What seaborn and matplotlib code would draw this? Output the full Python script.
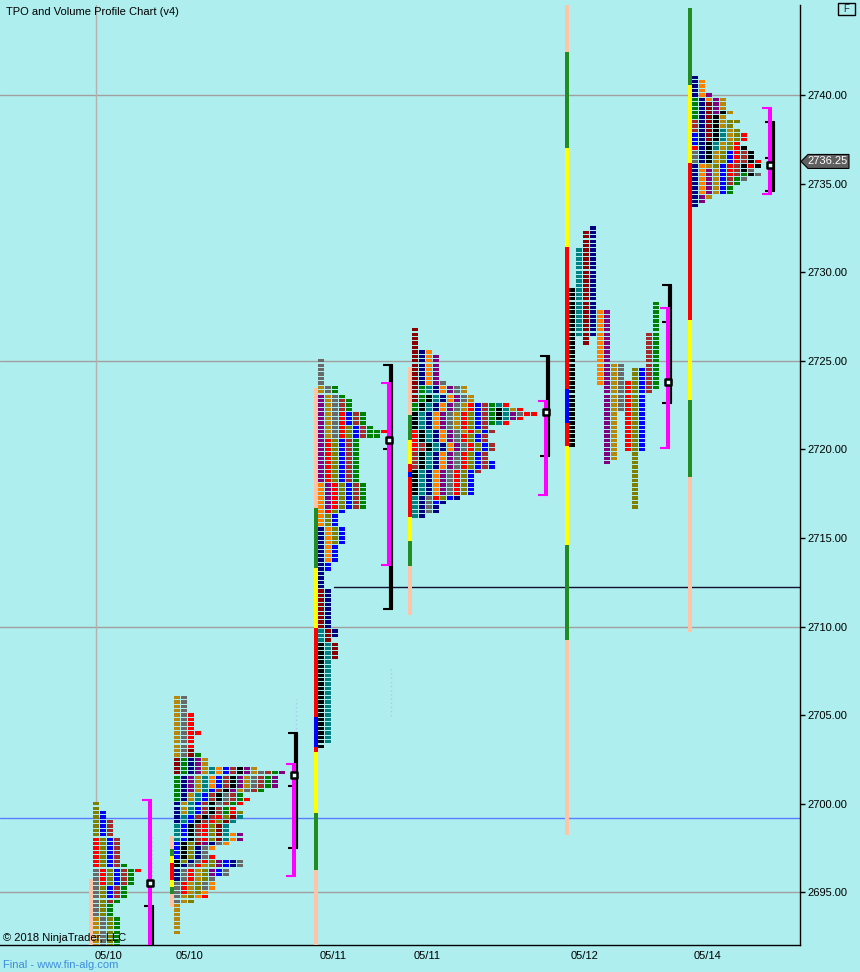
import matplotlib
matplotlib.use("Agg")
import matplotlib.pyplot as plt
import matplotlib.transforms as mtransforms
from matplotlib.patches import Polygon, Rectangle
import seaborn as sns
import pandas as pd

BG = "#AFEEEE"
TPO_COLORS = {
    "gold": "#B8860B", "grey": "#696969", "red": "#FF0000", "brown": "#A52A2A",
    "green": "#008000", "blue": "#0000FF", "navy": "#000080", "purple": "#800080",
    "teal": "#008080", "black": "#000000", "orange": "#FF8000", "olive": "#808000",
    "darkred": "#8B0000",
}
RANGE_COLORS = {"salmon": "#FFC4A8", "green": "#228B22", "yellow": "#FFFF00",
                "red": "#FF0000", "blue": "#0000FF"}

# ---- sessions -------------------------------------------------------------
session_labels = ["05/10", "05/10", "05/11", "05/11", "05/12", "05/14"]
session_split = [False, False, False, False, True, False]

# tpo periods: (colour, low, high)
s1_periods = [
    ("gold", 2691.5, 2693.5), ("grey", 2691.5, 2696.25), ("red", 2695.5, 2698.0),
    ("olive", 2691.5, 2700.0), ("blue", 2694.75, 2699.5), ("brown", 2694.5, 2699.0),
    ("green", 2691.5, 2696.5), ("red", 2696.25, 2696.25),
]
s2_periods = [
    ("gold", 2702.75, 2706.0), ("grey", 2702.75, 2706.0), ("red", 2703.25, 2705.0),
    ("red", 2704.0, 2704.0), ("darkred", 2701.75, 2703.0), ("green", 2700.25, 2702.75),
    ("navy", 2699.0, 2702.5), ("purple", 2700.75, 2702.5), ("gold", 2699.5, 2702.5),
    ("teal", 2698.0, 2702.0), ("orange", 2701.0, 2702.0), ("blue", 2697.0, 2702.0),
    ("brown", 2699.25, 2702.0), ("black", 2696.5, 2702.0), ("purple", 2700.75, 2702.0),
    ("gold", 2700.75, 2702.0), ("grey", 2700.0, 2701.75), ("brown", 2698.0, 2701.75),
    ("green", 2699.5, 2701.75), ("purple", 2701.0, 2701.75), ("red", 2698.0, 2700.25),
    ("olive", 2696.75, 2699.5), ("darkred", 2697.75, 2699.25), ("teal", 2698.0, 2699.25),
    ("orange", 2698.0, 2698.25), ("purple", 2697.75, 2698.25), ("navy", 2695.75, 2697.75),
    ("grey", 2694.5, 2697.75), ("orange", 2697.5, 2697.75), ("red", 2695.0, 2697.0),
    ("gold", 2692.75, 2696.5), ("olive", 2694.5, 2696.75), ("purple", 2696.0, 2696.75),
    ("blue", 2696.0, 2696.75), ("navy", 2696.5, 2696.75), ("grey", 2695.25, 2696.75),
    ("orange", 2694.75, 2695.5), ("red", 2694.75, 2694.75),
]
s3_periods = [
    ("black", 2703.25, 2709.0), ("teal", 2703.5, 2709.75), ("darkred", 2708.25, 2712.0),
    ("navy", 2709.5, 2715.5), ("orange", 2713.75, 2718.0), ("purple", 2716.75, 2723.0),
    ("gold", 2720.75, 2723.5), ("grey", 2720.75, 2725.0), ("red", 2716.5, 2722.0),
    ("olive", 2714.75, 2721.25), ("blue", 2713.25, 2722.0), ("brown", 2716.75, 2722.75),
    ("green", 2716.75, 2723.5), ("green", 2720.75, 2721.0), ("red", 2721.0, 2721.0),
]
s4_periods = [
    ("darkred", 2722.75, 2726.75), ("green", 2722.25, 2723.5), ("red", 2720.0, 2721.0),
    ("brown", 2719.0, 2720.25), ("black", 2717.5, 2723.0), ("teal", 2716.25, 2723.5),
    ("navy", 2716.5, 2725.5), ("orange", 2717.5, 2725.5), ("purple", 2717.5, 2725.25),
    ("grey", 2716.5, 2723.75), ("gold", 2721.0, 2723.5), ("red", 2717.25, 2722.5),
    ("olive", 2717.25, 2722.0), ("blue", 2717.0, 2722.5), ("brown", 2718.75, 2722.5),
    ("green", 2721.5, 2722.5), ("black", 2721.75, 2722.25), ("teal", 2721.5, 2722.5),
    ("purple", 2721.75, 2722.0), ("gold", 2722.25, 2722.25), ("grey", 2722.0, 2722.0),
    ("red", 2721.5, 2722.5), ("red", 2722.0, 2722.0), ("blue", 2719.0, 2719.25),
    ("navy", 2716.25, 2717.25),
]
s5_periods = [
    ("black", 2720.25, 2729.0), ("teal", 2726.5, 2731.25), ("darkred", 2726.0, 2732.25),
    ("navy", 2726.5, 2732.5), ("orange", 2723.75, 2727.75), ("purple", 2719.25, 2727.75),
    ("gold", 2719.5, 2724.75), ("grey", 2722.25, 2724.75), ("red", 2720.0, 2723.75),
    ("olive", 2716.75, 2724.5), ("blue", 2720.0, 2724.5), ("brown", 2723.25, 2726.5),
    ("green", 2723.5, 2728.25),
]
s6_periods = [
    ("green", 2738.75, 2739.75), ("brown", 2738.0, 2738.5), ("blue", 2737.25, 2737.75),
    ("red", 2737.0, 2737.0), ("grey", 2736.25, 2736.75), ("navy", 2733.75, 2741.0),
    ("orange", 2739.75, 2740.75), ("orange", 2734.5, 2736.0), ("darkred", 2737.5, 2739.5),
    ("purple", 2739.0, 2740.0), ("purple", 2734.0, 2735.75), ("black", 2736.25, 2739.0),
    ("teal", 2737.0, 2738.0), ("gold", 2734.25, 2739.75), ("olive", 2736.0, 2738.5),
    ("blue", 2734.5, 2736.75), ("red", 2735.5, 2737.75), ("brown", 2735.0, 2736.75),
    ("green", 2734.5, 2735.5), ("black", 2735.5, 2737.0), ("olive", 2738.5, 2738.5),
    ("red", 2736.0, 2736.25), ("black", 2736.0, 2736.0), ("grey", 2735.25, 2735.75),
]
all_periods = [s1_periods, s2_periods, s3_periods, s4_periods, s5_periods, s6_periods]

# price range bar of each session: edges top->bottom and segment colours
range_edges = [
    [2695.75, 2690.0],
    [2698.2, 2697.45, 2697.05, 2696.65, 2695.7, 2695.3, 2694.9, 2694.2],
    [2723.45, 2716.7, 2713.3, 2709.9, 2704.9, 2703.2, 2702.9, 2699.5, 2696.25, 2690.0],
    [2724.65, 2721.95, 2720.55, 2719.2, 2718.7, 2718.45, 2716.2, 2714.85, 2713.4, 2710.65],
    [2745.1, 2742.45, 2737.0, 2731.4, 2723.4, 2721.5, 2720.2, 2714.6, 2709.25, 2698.25],
    [2744.9, 2740.55, 2736.15, 2727.3, 2722.8, 2718.45, 2709.7],
]
range_colors = [
    ["salmon"],
    ["salmon", "green", "yellow", "red", "yellow", "green", "salmon"],
    ["salmon", "green", "yellow", "red", "blue", "red", "yellow", "green", "salmon"],
    ["salmon", "green", "yellow", "red", "blue", "red", "yellow", "green", "salmon"],
    ["salmon", "green", "yellow", "red", "blue", "red", "yellow", "green", "salmon"],
    ["green", "yellow", "red", "yellow", "green", "salmon"],
]

# value area (magenta), initial balance (black), poc marker
va_high = [2700.2, 2702.25, 2723.75, 2722.75, 2728.0, 2739.25]
va_low = [2690.0, 2695.9, 2713.5, 2717.4, 2720.1, 2734.4]
ib_high = [2694.25, 2704.0, 2724.75, 2725.25, 2729.25, 2738.5]
ib_low = [2690.0, 2697.5, 2711.0, 2719.6, 2722.6, 2734.6]
ib_mid = [[], [2701.0], [2720.0], [], [2727.2], [2736.45]]
poc_marker = [2695.55, 2701.6, 2720.55, 2722.1, 2723.8, 2736.05]

grey_levels = [2740, 2725, 2710, 2695]
blue_level = 2699.2
naked_poc = 2712.22
last_price = 2736.25
y_ticks = [2695, 2700, 2705, 2710, 2715, 2720, 2725, 2730, 2735, 2740]

# ---- layout (pixels along x) ----------------------------------------------
COL_W, BLOCK_W, BLOCK_H = 7, 6, 0.19
session_x = [93, 174, 318, 412, 569, 692]
bracket_x = [150, 294, 389, 546, 668, 770]
dotted = [(296, 2704.0, 2705.9), (391, 2704.95, 2707.65), (152, 2695.7, 2698.1)]


def build_profile(periods, split):
    rows = []
    if split:
        for k, (c, lo, hi) in enumerate(periods):
            for t in range(round(lo * 4), round(hi * 4) + 1):
                rows.append((t / 4, k, c))
    else:
        top = max(p[2] for p in periods)
        bot = min(p[1] for p in periods)
        for t in range(round(top * 4), round(bot * 4) - 1, -1):
            k = 0
            for c, lo, hi in periods:
                if round(lo * 4) <= t <= round(hi * 4):
                    rows.append((t / 4, k, c))
                    k += 1
    return pd.DataFrame(rows, columns=["price", "col", "color"])


sns.set_style("white")
plt.rcParams["font.family"] = ["Liberation Sans", "DejaVu Sans"]

fig = plt.figure(figsize=(8.6, 9.72), dpi=100, facecolor=BG)
ax = fig.add_axes([0, 27 / 972, 800 / 860, 940 / 972])
ax.set_facecolor(BG)
ax.set_xlim(0, 800)
ax.set_ylim(2692.03, 2745.08)

for p in grey_levels:
    ax.axhline(p, color="#A0A0A0", lw=1, zorder=1)
ax.axhline(blue_level, color="#5A7CFF", lw=1, zorder=1)
ax.plot([334, 800], [naked_poc, naked_poc], color="#101030", lw=1, zorder=2)
ax.plot([96, 96], [2700.0, 2745.1], color="#B4B0B0", lw=1, zorder=1)

for x, lo, hi in dotted:
    ax.plot([x, x], [lo, hi], color="#A8C8F0", lw=1, ls=(0, (1, 2)), zorder=2)

for i in range(6):
    df = build_profile(all_periods[i], session_split[i])
    ax.bar(session_x[i] + df["col"] * COL_W, BLOCK_H, width=BLOCK_W,
           bottom=df["price"] - BLOCK_H / 2, align="edge", linewidth=0,
           color=df["color"].map(TPO_COLORS), zorder=3)

    edges = range_edges[i]
    for j, c in enumerate(range_colors[i]):
        ax.bar(session_x[i] - 4, edges[j] - edges[j + 1], width=4, bottom=edges[j + 1],
               align="edge", linewidth=0, color=RANGE_COLORS[c], zorder=3)

    # initial balance bracket (black)
    xb = bracket_x[i] + (3 if i == 5 else 2)
    ax.plot([xb, xb], [ib_low[i], ib_high[i]], color="black", lw=3.0,
            solid_capstyle="butt", zorder=5)
    for p in [ib_high[i], ib_low[i]] + ib_mid[i]:
        ax.plot([xb - 8, xb + 2], [p, p], color="black", lw=1.5,
                solid_capstyle="butt", zorder=5)
    # value area bracket (magenta)
    xm = bracket_x[i]
    ax.plot([xm, xm], [va_low[i], va_high[i]], color="#FF00FF", lw=2.9,
            solid_capstyle="butt", zorder=6)
    for p in [va_high[i], va_low[i]]:
        ax.plot([xm - 8, xm + 2], [p, p], color="#FF00FF", lw=1.5,
                solid_capstyle="butt", zorder=6)

sns.scatterplot(x=bracket_x, y=poc_marker, marker="s", s=17, color="#E6FFFF",
                edgecolor="black", linewidth=1.8, zorder=7, ax=ax, legend=False)

# axes styling
for side in ["left", "top"]:
    ax.spines[side].set_visible(False)
for side in ["right", "bottom"]:
    ax.spines[side].set_color("black")
    ax.spines[side].set_linewidth(1)
ax.yaxis.tick_right()
ax.set_yticks(y_ticks)
ax.set_yticklabels([f"{v:.2f}" for v in y_ticks])
ax.tick_params(axis="y", right=True, left=False, length=3.6, width=1, pad=1.5,
               labelsize=8, colors="black", direction="out")
ax.set_xticks([x + 15.5 for x in session_x])
ax.set_xticklabels(session_labels)
ax.tick_params(axis="x", length=0, pad=4, labelsize=8, colors="black")
ax.grid(False)

# last price tag
tr = mtransforms.blended_transform_factory(ax.transAxes, ax.transData)
h = 7 / 17.72
tag = Polygon([(801 / 800, last_price), (808 / 800, last_price + h),
               (849 / 800, last_price + h), (849 / 800, last_price - h),
               (808 / 800, last_price - h)], closed=True, transform=tr,
              facecolor="#5F5F5F", edgecolor="black", lw=0.8, clip_on=False, zorder=8)
ax.add_patch(tag)
ax.text(828 / 800, last_price, f"{last_price:.2f}", transform=tr, color="white",
        fontsize=8, ha="center", va="center", clip_on=False, zorder=9)

# texts
fig.text(6 / 860, 1 - 12 / 972, "TPO and Volume Profile Chart (v4)", fontsize=8,
         va="center", ha="left", color="black")
fig.text(3 / 860, 1 - 938 / 972, "\u00a9 2018 NinjaTrader, LLC", fontsize=8,
         va="center", ha="left", color="black")
fig.text(3 / 860, 1 - 965 / 972, "Final - www.fin-alg.com", fontsize=8,
         va="center", ha="left", color="#3C8CDC")
fig.add_artist(Rectangle((838 / 860, 1 - 15 / 972), 17 / 860, 12 / 972,
                         transform=fig.transFigure, fill=False, edgecolor="black", lw=1))
fig.text(846.5 / 860, 1 - 9 / 972, "F", fontsize=7, ha="center", va="center")

fig.savefig("out.png", dpi=100, facecolor=BG)
